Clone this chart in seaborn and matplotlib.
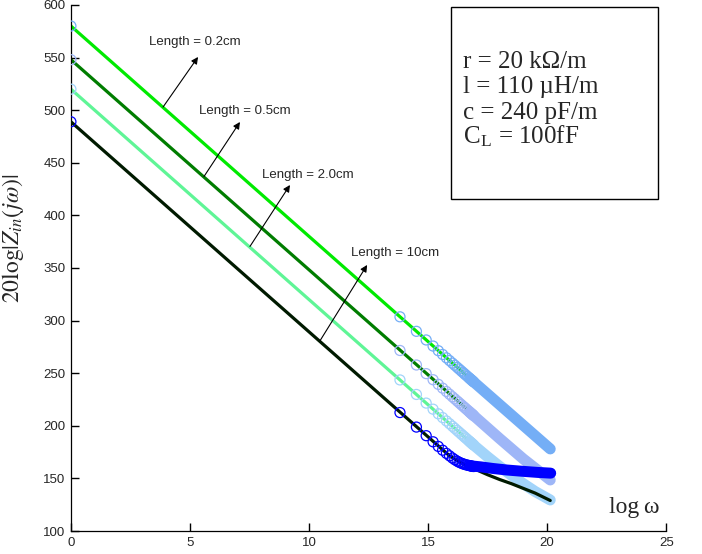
import matplotlib
matplotlib.use("Agg")
import matplotlib.pyplot as plt
import seaborn as sns
from matplotlib.patches import Rectangle

# ---------- data ----------
# solid (simulated) curves, one per line length
SIM_X_02 = [0.0, 20.13]
SIM_Y_02 = [580, 177.5]
SIM_X_05 = [0.0, 20.13]
SIM_Y_05 = [548, 146]
SIM_X_20 = [0.0, 16.52, 17.5, 18.5, 19.5, 20.13]
SIM_Y_20 = [520, 189.6, 170.5, 153, 137.5, 129.5]
SIM_X_10 = [0.0, 15.9, 16.5, 17.0, 17.5, 18.0, 18.5, 19.0, 19.5, 20.13]
SIM_Y_10 = [489, 171.5, 163.5, 158.5, 153.5, 149, 145, 140.5, 136, 129]

# analytic points (open circles), shared log(omega) positions
MK_X = [0.0, 13.82, 14.51, 14.92, 15.21, 15.43, 15.61, 15.77, 15.90,
        16.02, 16.12, 16.22, 16.30, 16.38, 16.45, 16.52, 16.58, 16.65,
        16.71, 16.76, 16.82, 16.86, 16.91]
MK_Y_02 = [580, 303.6, 289.8, 281.6, 275.8, 271.4, 267.8, 264.6, 262.0,
           259.6, 257.6, 255.6, 254.0, 252.4, 251.0, 249.6, 248.4, 247.0,
           245.8, 244.8, 243.6, 242.8, 241.8]
MK_Y_05 = [548, 271.6, 257.8, 249.6, 243.8, 239.4, 235.8, 232.6, 230.0,
           227.6, 225.6, 223.6, 222.0, 220.4, 219.0, 217.6, 216.4, 215.0,
           213.8, 212.8, 211.6, 210.8, 209.8]
MK_Y_20 = [520, 243.6, 229.8, 221.6, 215.8, 211.4, 207.8, 204.6, 202.0,
           199.6, 197.6, 195.6, 194.0, 192.4, 191.0, 189.6, 188.4, 187.0,
           185.8, 184.8, 183.6, 182.8, 181.8]
MK_Y_10 = [489, 212.6, 198.8, 190.6, 184.8, 180.4, 176.8, 173.8, 171.5,
           169.4, 167.8, 166.4, 165.4, 164.6, 164.0, 163.4, 163.0, 162.6,
           162.3, 162.0, 161.7, 161.5, 161.3]

# dense part of the analytic points (circles merge into a solid band)
BAND_X_02 = [16.76, 20.13]
BAND_Y_02 = [244.8, 178]
BAND_X_05 = [16.76, 18.0, 19.0, 20.13]
BAND_Y_05 = [212.8, 188, 168.5, 148.5]
BAND_X_20 = [16.76, 17.0, 17.5, 18.0, 18.5, 19.0, 19.5, 20.13]
BAND_Y_20 = [184.8, 180, 170.5, 161.5, 153, 145, 137.5, 129.5]
BAND_X_10 = [16.76, 17.2, 17.7, 18.3, 19.0, 19.6, 20.15]
BAND_Y_10 = [162.0, 161, 159.5, 158, 156.7, 155.7, 155]

LENGTH_LABELS = ["Length = 0.2cm", "Length = 0.5cm", "Length = 2.0cm", "Length = 10cm"]
PARAM_LINES = ["r = 20 k\u03a9/m", "l = 110 \u00b5H/m", "c = 240 pF/m",
               r"C$_\mathregular{L}$ = 100fF"]

X_TICKS = [0, 5, 10, 15, 20, 25]
Y_TICKS = [100, 150, 200, 250, 300, 350, 400, 450, 500, 550, 600]

# ---------- style ----------
LINE_COLORS = ["#00ea00", "#007d00", "#5ff596", "#001a00"]
MK_COLORS = ["#74aef6", "#9eb6f7", "#a2d4fa", "#0000ff"]

sns.set_style("ticks")
plt.rcParams["font.family"] = ["Liberation Sans", "DejaVu Sans"]
plt.rcParams["mathtext.fontset"] = "stix"
plt.rcParams["mathtext.rm"] = "Liberation Serif"

fig = plt.figure(figsize=(7.02, 5.54), dpi=100)
ax = fig.add_axes([0.101, 0.0415, 0.848, 0.9495])

sims = [(SIM_X_02, SIM_Y_02), (SIM_X_05, SIM_Y_05), (SIM_X_20, SIM_Y_20), (SIM_X_10, SIM_Y_10)]
marks = [MK_Y_02, MK_Y_05, MK_Y_20, MK_Y_10]
bands = [(BAND_X_02, BAND_Y_02), (BAND_X_05, BAND_Y_05), (BAND_X_20, BAND_Y_20), (BAND_X_10, BAND_Y_10)]

for i in range(4):
    z = 4 if i == 3 else 2
    sx, sy = sims[i]
    sns.lineplot(x=sx, y=sy, ax=ax, color=LINE_COLORS[i], linewidth=2.3,
                 sort=False, estimator=None, zorder=z)

for i in range(4):
    z = 5 if i == 3 else 3
    bx, by = bands[i]
    sns.lineplot(x=bx, y=by, ax=ax, color=MK_COLORS[i], linewidth=7.9,
                 sort=False, estimator=None, solid_capstyle="round",
                 solid_joinstyle="round", zorder=z)
    ax.scatter(MK_X, marks[i], s=52, facecolors="none",
               edgecolors=MK_COLORS[i], linewidths=0.9, zorder=z)

# arrows from each curve to its label
arrow_tails = [(3.87, 503), (5.59, 437), (7.52, 370.5), (10.46, 280.8)]
arrow_heads = [(5.34, 550.6), (7.10, 488.8), (9.20, 428.9), (12.44, 352.9)]
label_pos = [(5.21, 564.8), (7.31, 499.2), (9.96, 438.4), (13.61, 364.3)]
for lab, t, h, p in zip(LENGTH_LABELS, arrow_tails, arrow_heads, label_pos):
    ax.annotate("", xy=h, xytext=t,
                arrowprops=dict(arrowstyle="-|>", color="black", lw=0.8,
                                mutation_scale=10, shrinkA=0, shrinkB=0),
                zorder=6)
    ax.text(p[0], p[1], lab, ha="center", va="center", fontsize=9.5, zorder=6)

# parameter box
ax.add_patch(Rectangle((0.638, 0.631), 0.3486, 0.3658, transform=ax.transAxes,
                       fill=False, edgecolor="black", linewidth=1.0, zorder=6))
for txt, yb in zip(PARAM_LINES, [0.8808, 0.8327, 0.7842, 0.7357]):
    ax.text(0.659, yb, txt, transform=ax.transAxes, ha="left", va="baseline",
            fontsize=18, family="Liberation Serif", zorder=6)

ax.set_xlim(0, 25)
ax.set_ylim(100, 600)
ax.set_xticks(X_TICKS)
ax.set_yticks(Y_TICKS)
ax.tick_params(direction="in", length=6, width=1.0, color="black",
               labelsize=9.5, pad=4)
sns.despine(ax=ax)
for s in ["left", "bottom"]:
    ax.spines[s].set_linewidth(0.9)
    ax.spines[s].set_color("black")

ax.set_ylabel(r"$\mathrm{20log}|Z_{in}(j\omega)|$", fontsize=17)
ax.yaxis.set_label_coords(-0.075, 0.557)
ax.set_xlabel("")
ax.text(23.66, 121.9, "log\u2009\u03c9", ha="center", va="center", fontsize=17,
        family="Liberation Serif")

fig.savefig("out.png", dpi=100)
